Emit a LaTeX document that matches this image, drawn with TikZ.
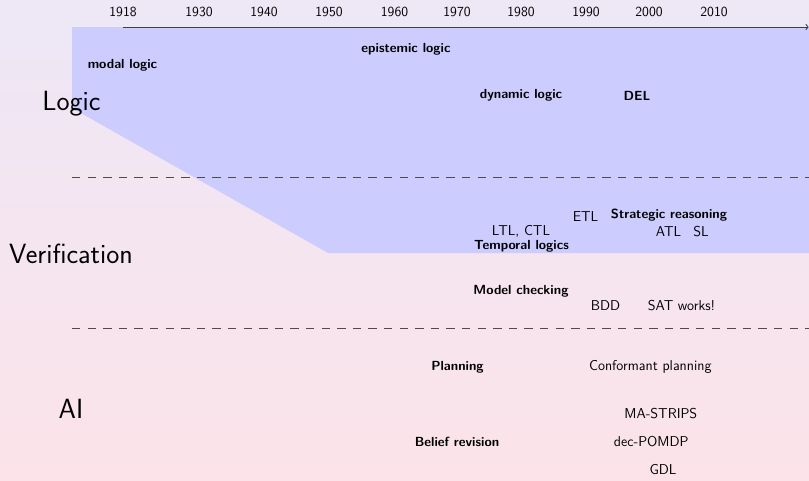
\documentclass[tikz,border=0pt]{standalone}
\usetikzlibrary{arrows.meta}
\definecolor{bgtop}{RGB}{237,231,246}
\definecolor{bgbot}{RGB}{252,227,233}
\definecolor{logicblue}{RGB}{204,204,255}
\begin{document}
\begin{tikzpicture}[x=1pt,y=-1pt,
  lab/.style={font=\sffamily\fontsize{14.3}{17}\selectfont, inner sep=0pt, anchor=base, text=black},
  blab/.style={lab, font=\sffamily\bfseries\fontsize{13.2}{16}\selectfont},
  big/.style={lab, font=\sffamily\fontsize{27.8}{32}\selectfont},
  yearlab/.style={lab, font=\sffamily\fontsize{13.9}{16}\selectfont},
  sepline/.style={draw=black!70, line width=1pt, dash pattern=on 8.3pt off 7.3pt},
  axisline/.style={draw=black!75, line width=0.9pt, -{To[length=3pt,width=6pt]}}]
% background
\shade[top color=bgtop, bottom color=bgbot] (0,0) rectangle (809,480);
\useasboundingbox (0,0) rectangle (809,480);
% logic region
\fill[logicblue] (72,27) -- (809,27) -- (809,253) -- (328,253) -- (72,108) -- cycle;
% separators
\coordinate (s1a) at (72,177.5);
\coordinate (s1b) at (809,177.5);
\coordinate (s2a) at (72,328.5);
\coordinate (s2b) at (809,328.5);
\draw[sepline] (s1a) -- (s1b);
\draw[sepline] (s2a) -- (s2b);
% axis
\coordinate (axstart) at (123,27);
\coordinate (axend) at (808.5,27);
\draw[axisline] (axstart) -- (axend);
% years
\node[yearlab] (y1918) at (123,16.7) {1918};
\node[yearlab] (y1930) at (199,16.7) {1930};
\node[yearlab] (y1940) at (264,16.7) {1940};
\node[yearlab] (y1950) at (329,16.7) {1950};
\node[yearlab] (y1960) at (394.5,16.7) {1960};
\node[yearlab] (y1970) at (457,16.7) {1970};
\node[yearlab] (y1980) at (521,16.7) {1980};
\node[yearlab] (y1990) at (586,16.7) {1990};
\node[yearlab] (y2000) at (649,16.7) {2000};
\node[yearlab] (y2010) at (714,16.7) {2010};
% area labels
\node[big] (logic) at (71.5,110) {Logic};
\node[big] (verif) at (71,263.3) {Verification};
\node[big] (ai) at (71,418) {AI};
% logic
\node[blab] (modal) at (122.5,68) {modal logic};
\node[blab] (epist) at (406,52.3) {epistemic logic};
\node[blab] (dyn) at (521,98) {dynamic logic};
\node[blab] (del) at (637,100.5) {DEL};
% verification
\node[lab] (etl) at (585.5,221.7) {ETL};
\node[blab] (strat) at (669,218.5) {Strategic reasoning};
\node[lab] (ltl) at (521,235) {LTL, CTL};
\node[lab] (atl) at (668.5,236.3) {ATL};
\node[lab] (sl) at (701,236.3) {SL};
\node[blab] (temp) at (521.5,249.3) {Temporal logics};
\node[blab] (mc) at (521,294.2) {Model checking};
\node[lab] (bdd) at (605.5,310.7) {BDD};
\node[lab] (sat) at (681.5,310.7) {SAT works!};
% AI
\node[blab] (plan) at (457.5,370.7) {Planning};
\node[lab] (conf) at (650.3,370.7) {Conformant planning};
\node[lab] (mastrips) at (660.8,418.3) {MA-STRIPS};
\node[blab] (belief) at (457,446.7) {Belief revision};
\node[lab] (dec) at (651.3,446.7) {dec-POMDP};
\node[lab] (gdl) at (663,474.7) {GDL};
\end{tikzpicture}
\end{document}
